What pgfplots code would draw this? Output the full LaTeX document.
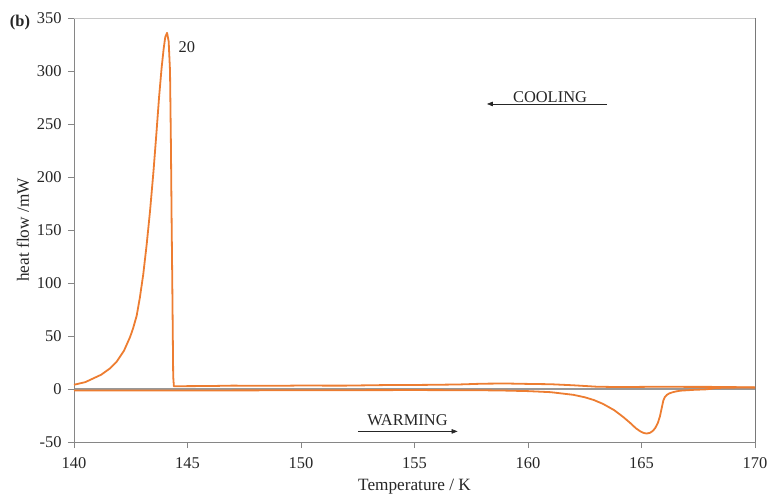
\documentclass[border=0pt]{standalone}
\usepackage{pgfplots}
\pgfplotsset{compat=1.18}
\usepackage{fontspec}
\setmainfont{Liberation Serif}
\usetikzlibrary{arrows.meta}
\definecolor{exorange}{RGB}{237,125,49}
\definecolor{axgray}{RGB}{134,134,134}
\definecolor{topgray}{RGB}{200,200,200}
\begin{document}
\begin{tikzpicture}
\begin{axis}[
  scale only axis,
  width=681bp, height=424bp,
  xmin=140, xmax=170, ymin=-50, ymax=350,
  xtick={140,145,...,170}, ytick={-50,0,...,350},
  axis line style={draw=none},
  tick align=outside, tick pos=left,
  major tick length=6bp,
  tick style={axgray, line width=0.8bp},
  /pgf/number format/assume math mode=true,
  tick label style={font=\fontsize{16.5}{19}\selectfont, text=black!85},
  xticklabel style={yshift=-6bp},
  yticklabel style={xshift=-3bp},
  xlabel={Temperature / K}, ylabel={heat flow /mW},
  every axis x label/.style={at={(axis description cs:0.5,-0.106)}, anchor=center, font=\fontsize{17.3}{20}\selectfont, text=black!85},
  every axis y label/.style={at={(axis description cs:-0.0749,0.5)}, anchor=center, rotate=90, font=\fontsize{17.3}{20}\selectfont, text=black!85},
  extra y ticks={0}, extra y tick labels={},
  extra y tick style={grid=major, major grid style={axgray!85, line width=1.4bp}, major tick length=0pt},
  clip=false,
]
% frame
\draw[axgray, line width=0.9bp] (axis cs:140,350) -- (axis cs:140,-50) -- (axis cs:170,-50);
\draw[topgray, line width=0.9bp] (axis cs:140,350) -- (axis cs:170,350);
\draw[axgray!90!black, line width=0.9bp] (axis cs:170,350) -- (axis cs:170,-50);
% cooling run
\addplot[exorange, line width=1.8bp, line join=round] coordinates {
(140,4) (140.5,6.5) (140.85,10) (141.2,13.5) (141.59,19.5) (141.88,25.8) (142.2,36)
(142.47,49) (142.6,57) (142.76,69) (142.9,86) (143.05,108) (143.2,136) (143.35,168)
(143.5,205) (143.64,244) (143.75,276) (143.86,303) (143.95,321) (144.02,332) (144.1,336)
(144.17,328) (144.23,300) (144.27,230) (144.30,160) (144.33,100) (144.37,12) (144.4,2.5)
(145,2.7) (146,2.8) (147,3.2) (148,3.0) (149,3.0) (150,3.3) (151,3.2) (152,3.2)
(153,3.5) (154,3.8) (155,3.8) (156,4.0) (157,4.3) (158,5.0) (159,5.2) (160,4.8)
(161,4.5) (162,3.5) (163,2.2) (164,1.8) (165,2.0) (166,2.2) (167,2.0) (168,2.0)
(169,1.8) (170,1.5)
};
% warming run
\addplot[exorange, line width=1.8bp, line join=round] coordinates {
(140,-1.5) (145,-1.4) (150,-1.2) (155,-1.0) (158,-1.2) (159,-1.5) (160,-2.0) (161,-3.0)
(161.4,-4) (162,-5.5) (162.5,-7.8) (162.9,-10.4) (163.3,-14) (163.8,-20) (164.2,-26.5)
(164.5,-32) (164.75,-37) (164.95,-40) (165.1,-41.5) (165.23,-42) (165.38,-41.3) (165.5,-39.5) (165.6,-37)
(165.72,-32) (165.81,-26) (165.9,-17) (165.96,-11) (166.03,-7.5) (166.12,-5.5) (166.22,-4.2)
(166.35,-3.2) (166.5,-2.4) (166.7,-1.6)
(167.3,-0.8) (167.87,-0.3) (168.3,1.0) (169,1.3) (170,1.5)
};
% annotations
\node[font=\fontsize{16.5}{19}\selectfont, text=black!85, anchor=west] at (axis cs:144.45,322.6) {20};
\node[font=\fontsize{16.5}{19}\selectfont, text=black!85] at (axis cs:160.97,275.5) {COOLING};
\draw[black!85, line width=0.7bp, -{Triangle[length=6bp,width=4.5bp]}] (axis cs:163.48,268.9) -- (axis cs:158.19,268.9);
\node[font=\fontsize{16.5}{19}\selectfont, text=black!85] at (axis cs:154.69,-29) {WARMING};
\draw[black!85, line width=0.7bp, -{Triangle[length=6bp,width=4.5bp]}] (axis cs:152.5,-40) -- (axis cs:156.9,-40);
\node[font=\bfseries\fontsize{16.5}{19}\selectfont, text=black!85] at (axis cs:137.62,346) {(b)};
\end{axis}
\pgfresetboundingbox
\path (-74bp,-57bp) rectangle (698bp,442bp);
\end{tikzpicture}
\end{document}
